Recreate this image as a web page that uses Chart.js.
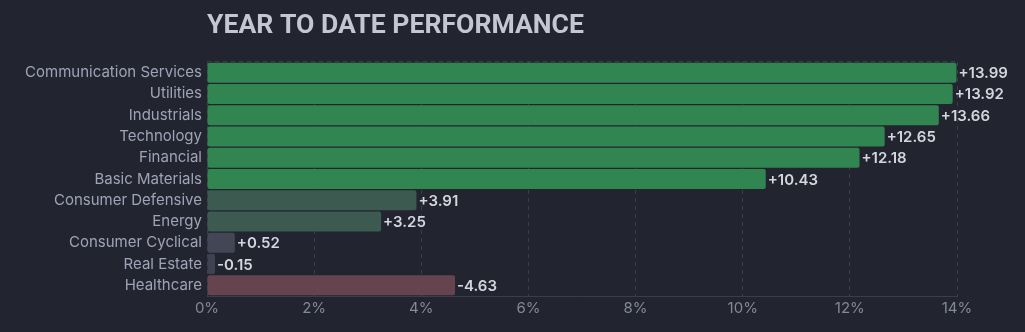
<!DOCTYPE html>
<html>
<head>
<meta charset="utf-8">
<script src="https://cdn.jsdelivr.net/npm/chart.js@4.4.1/dist/chart.umd.min.js"></script>
<style>
  html, body { margin: 0; padding: 0; background: #22252f; }
  #wrap { width: 1025px; height: 332px; }
</style>
</head>
<body>
<div id="wrap"><canvas id="c" width="1025" height="332"></canvas></div>
<script>
const categories = ["Communication Services","Utilities","Industrials","Technology","Financial","Basic Materials","Consumer Defensive","Energy","Consumer Cyclical","Real Estate","Healthcare"];
const values = [13.99, 13.92, 13.66, 12.65, 12.18, 10.43, 3.91, 3.25, 0.52, -0.15, -4.63];
const barColors = ["#318550","#318550","#318550","#318550","#318550","#318550","#3d5a50","#3d5a50","#434655","#3f4250","#65444f"];
const tickValues = [0, 2, 4, 6, 8, 10, 12, 14];
const titleText = "YEAR TO DATE PERFORMANCE";

const gridColor = "#3a3e4b";

const extras = {
  id: "extras",
  beforeDatasetsDraw(chart) {
    const { ctx, chartArea: a } = chart;
    ctx.save();
    ctx.strokeStyle = gridColor;
    ctx.lineWidth = 1;
    ctx.setLineDash([4, 4]);
    ctx.beginPath();
    ctx.moveTo(a.left, a.top - 0.5);
    ctx.lineTo(a.right, a.top - 0.5);
    ctx.stroke();
    ctx.restore();
  },
  afterDatasetsDraw(chart) {
    const { ctx, chartArea: a } = chart;
    const meta = chart.getDatasetMeta(0);
    ctx.save();
    ctx.font = "600 15px Inter";
    ctx.fillStyle = "#d4d5dd";
    ctx.textAlign = "left";
    ctx.textBaseline = "middle";
    meta.data.forEach((bar, i) => {
      const v = values[i];
      const txt = (v >= 0 ? "+" : "-") + Math.abs(v).toFixed(2);
      ctx.fillText(txt, bar.x + 2, bar.y + 1);
    });
    ctx.font = "bold 26.6px Roboto";
    ctx.fillStyle = "#c4c6d2";
    ctx.textBaseline = "alphabetic";
    ctx.fillText(titleText, a.left, 33);
    ctx.restore();
  }
};

new Chart(document.getElementById("c"), {
  type: "bar",
  data: {
    labels: categories,
    datasets: [{
      data: values.map(v => Math.abs(v)),
      backgroundColor: barColors,
      borderRadius: 2,
      borderSkipped: false,
      barPercentage: 0.94,
      categoryPercentage: 1.0
    }]
  },
  options: {
    indexAxis: "y",
    responsive: false,
    animation: false,
    devicePixelRatio: 1,
    layout: { padding: { top: 62, right: 68, bottom: 0, left: 0 } },
    plugins: { legend: { display: false }, title: { display: false }, tooltip: { enabled: false } },
    scales: {
      x: {
        min: 0, max: 14,
        afterBuildTicks(scale) { scale.ticks = tickValues.map(v => ({ value: v })); },
        afterFit(scale) { scale.height = 36; },
        grid: { color: gridColor, tickLength: 0, drawTicks: false, lineWidth: 1 },
        border: { display: true, color: gridColor, dash: [4, 4] },
        ticks: {
          padding: 3,
          color: "#858899",
          font: { family: "Inter", size: 15 },
          callback: v => v + "%"
        }
      },
      y: {
        afterFit(scale) { scale.width = 207; },
        grid: { display: false, drawTicks: false },
        border: { display: false },
        ticks: {
          padding: 5,
          color: "#a0a3b7",
          font: { family: "Inter", size: 15 }
        }
      }
    }
  },
  plugins: [extras]
});
</script>
</body>
</html>
